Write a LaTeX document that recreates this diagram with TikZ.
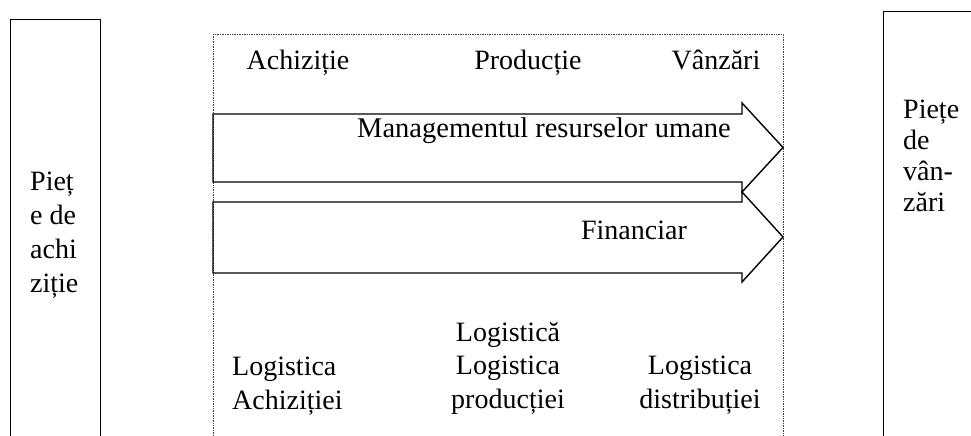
\documentclass[tikz,border=0pt]{standalone}
\usepackage{fontspec}
\setmainfont{Liberation Serif}
\begin{document}
\begin{tikzpicture}[x=1pt,y=-1pt,
  txt/.style={font=\fontsize{28}{33.5}\selectfont, inner sep=0pt, anchor=base},
  box/.style={draw, line width=1.4pt},
  flow/.style={draw, line width=1.4pt, line join=miter},
  frame/.style={draw=black!75, densely dotted, line width=0.7pt}]
\useasboundingbox (0,0) rectangle (971,436);
\clip (0,0) rectangle (971,436);
% side boxes
\node[box, minimum width=90pt, minimum height=434pt, anchor=north west] (leftbox) at (10,19) {};
\node[txt, font=\fontsize{28}{34}\selectfont, align=left, anchor=base west] (lefttxt) at (30,292) {Pieț\\e de\\achi\\ziție};
\node[box, minimum width=150pt, minimum height=500pt, anchor=north west] (rightbox) at (883,11) {};
\node[txt, font=\fontsize{28}{31}\selectfont, align=left, anchor=base west] (righttxt) at (903,211) {Piețe\\de\\vân-\\zări};
% dotted frame
\node[frame, minimum width=570pt, minimum height=450pt, anchor=north west] (frame) at (213,34) {};
% arrows
\draw[flow] (213,114) -- (742,114) -- (742,103) -- (783,147.5) -- (742,192) -- (742,182) -- (213,182) -- cycle;
\draw[flow] (213,202) -- (742,202) -- (742,192) -- (783,237) -- (742,282) -- (742,273) -- (213,273) -- cycle;
% labels
\node[txt] (ach) at (298,70) {Achiziție};
\node[txt] (prod) at (528,70) {Producție};
\node[txt] (vanz) at (716,70) {Vânzări};
\node[txt, font=\fontsize{28.5}{33.5}\selectfont] (mru) at (544,137) {Managementul resurselor umane};
\node[txt] (fin) at (634,239) {Financiar};
\node[txt, align=left, anchor=base west] (la) at (232,409) {Logistica\\Achiziției};
\node[txt, align=center] (lp) at (508,408) {Logistică\\Logistica\\producției};
\node[txt, align=center] (ld) at (700,408) {Logistica\\distribuției};
\end{tikzpicture}
\end{document}
